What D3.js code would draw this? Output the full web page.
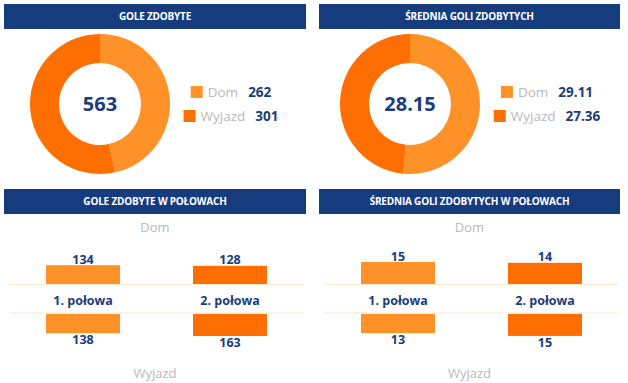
<!DOCTYPE html>
<html><head><meta charset="utf-8">
<script src="https://cdn.jsdelivr.net/npm/d3@7"></script>
<style>
html,body{margin:0;padding:0;background:#fff;}
svg{display:block;}
text{font-family:"Open Sans",sans-serif;}
</style></head>
<body>
<svg id="c" width="628" height="383"></svg>
<script>
// ---- data ----
const titles = ["GOLE ZDOBYTE", "ŚREDNIA GOLI ZDOBYTYCH", "GOLE ZDOBYTE W POŁOWACH", "ŚREDNIA GOLI ZDOBYTYCH W POŁOWACH"];
const seriesNames = ["Dom", "Wyjazd"];
const goalsTotal = [262, 301];
const goalsTotalLabel = "563";
const goalsAvg = [29.11, 27.36];
const goalsAvgLabel = "28.15";
const halves = ["1. połowa", "2. połowa"];
const halvesDom = [134, 128];
const halvesWyjazd = [138, 163];
const halvesAvgDom = [14.89, 14.22];
const halvesAvgWyjazd = [12.55, 14.82];

const colors = ["#FF9129", "#FF6E00"];
const navy = "#163C7D";
const blue = "#1B3D7A";
const gray = "#B9B9B9";

const svg = d3.select("#c");

function header(x0, x1, y0, y1, t) {
  svg.append("rect").attr("x", x0).attr("y", y0).attr("width", x1 - x0).attr("height", y1 - y0).attr("fill", navy);
  svg.append("text").attr("x", (x0 + x1) / 2).attr("y", (y0 + y1) / 2 + 3.6)
    .attr("text-anchor", "middle").attr("fill", "#fff").attr("font-weight", 700)
    .attr("font-size", 10).attr("letter-spacing", -0.2).text(t);
}

header(4, 306, 4, 29, titles[0]);
header(319, 620, 4, 29, titles[1]);
header(4, 306, 189, 214, titles[2]);
header(319, 620, 189, 214, titles[3]);

function donut(cx, cy, vals, centerLabel, legendCx, fmt) {
  const pie = d3.pie().sort(null).value(d => d)(vals);
  const arc = d3.arc().innerRadius(41).outerRadius(70);
  const g = svg.append("g").attr("transform", `translate(${cx},${cy})`);
  g.selectAll("path").data(pie).join("path").attr("d", arc).attr("fill", (d, i) => colors[i]);
  g.append("text").attr("y", 7).attr("text-anchor", "middle").attr("fill", blue)
    .attr("font-weight", 700).attr("font-size", 20).text(centerLabel);
  const rows = [86, 110];
  vals.forEach((v, i) => {
    const row = svg.append("g");
    const name = row.append("text").attr("x", 17).attr("y", rows[i] + 11).attr("fill", gray)
      .attr("font-size", 13.5).text(seriesNames[i]);
    const nw = name.node().getComputedTextLength();
    const val = row.append("text").attr("x", 17 + nw + 10).attr("y", rows[i] + 11).attr("fill", blue)
      .attr("font-weight", 700).attr("font-size", 13.5).text(fmt(v));
    const vw = val.node().getComputedTextLength();
    row.append("rect").attr("x", 0).attr("y", rows[i]).attr("width", 12).attr("height", 12).attr("fill", colors[i]);
    const total = 17 + nw + 10 + vw;
    row.attr("transform", `translate(${legendCx - total / 2},0)`);
  });
}

donut(100, 104, goalsTotal, goalsTotalLabel, 231, d3.format("d"));
donut(410, 104, goalsAvg, goalsAvgLabel, 547, d3.format(".2f"));

function halvesChart(x0, x1, dom, wy, fmt) {
  const cx = (x0 + x1) / 2;
  const lineTop = 284.5, lineBot = 313;
  const max = d3.max(dom.concat(wy));
  const h = d3.scaleLinear().domain([0, max]).range([4, 22]);
  const xp = d3.scalePoint().domain(halves).range([x0 + 79, x0 + 226]);
  const bw = 74;
  svg.append("line").attr("x1", x0 + 5).attr("x2", x1 - 2).attr("y1", lineTop).attr("y2", lineTop)
    .attr("stroke", "#FDE7CF").attr("stroke-width", 1.2);
  svg.append("line").attr("x1", x0 + 5).attr("x2", x1 - 2).attr("y1", lineBot).attr("y2", lineBot)
    .attr("stroke", "#FDE7CF").attr("stroke-width", 1.2);
  svg.append("text").attr("x", cx).attr("y", 232).attr("text-anchor", "middle").attr("fill", gray)
    .attr("font-size", 13).text(seriesNames[0]);
  svg.append("text").attr("x", cx).attr("y", 378).attr("text-anchor", "middle").attr("fill", gray)
    .attr("font-size", 13).text(seriesNames[1]);
  halves.forEach((k, i) => {
    const bx = xp(k);
    const hd = h(dom[i]), hw = h(wy[i]);
    svg.append("rect").attr("x", bx - bw / 2).attr("y", lineTop - 0.5 - hd).attr("width", bw).attr("height", hd).attr("fill", colors[i]);
    svg.append("rect").attr("x", bx - bw / 2).attr("y", lineBot + 1).attr("width", bw).attr("height", hw).attr("fill", colors[i]);
    svg.append("text").attr("x", bx).attr("y", lineTop - 0.5 - hd - 1.5).attr("text-anchor", "middle").attr("fill", blue)
      .attr("font-weight", 700).attr("font-size", 12.5).text(fmt(dom[i]));
    svg.append("text").attr("x", bx).attr("y", lineBot + 1 + hw + 11).attr("text-anchor", "middle").attr("fill", blue)
      .attr("font-weight", 700).attr("font-size", 12.5).text(fmt(wy[i]));
    svg.append("text").attr("x", bx).attr("y", 305).attr("text-anchor", "middle").attr("fill", blue)
      .attr("font-weight", 700).attr("font-size", 12.5).text(k);
  });
}

halvesChart(4, 306, halvesDom, halvesWyjazd, d3.format("d"));
halvesChart(319, 620, halvesAvgDom, halvesAvgWyjazd, d3.format(".0f"));
</script>
</body></html>
